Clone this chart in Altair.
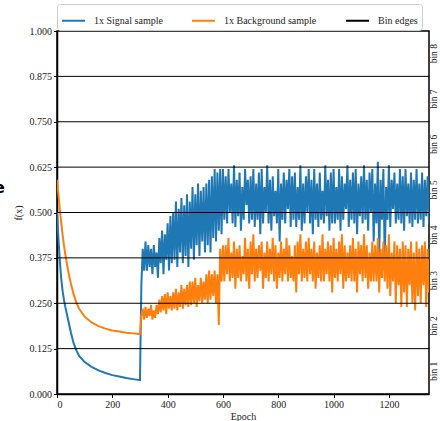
import altair as alt
import pandas as pd

# ---- data ----
smooth_epochs = [0, 5, 10, 15, 20, 25, 30, 40, 50, 60, 70, 80, 100, 125, 150, 175, 200, 225, 250, 275, 300]
signal_smooth = [0.50, 0.43, 0.37, 0.32, 0.285, 0.26, 0.24, 0.205, 0.17, 0.14, 0.12, 0.105, 0.088, 0.075,
                 0.065, 0.058, 0.052, 0.048, 0.044, 0.041, 0.038]
background_smooth = [0.59, 0.55, 0.51, 0.475, 0.44, 0.41, 0.385, 0.34, 0.305, 0.275, 0.252, 0.235, 0.213,
                     0.197, 0.187, 0.18, 0.175, 0.172, 0.169, 0.167, 0.165]

noisy_epochs = list(range(305, 1350, 5))

signal_noisy = [
    0.30, 0.40, 0.34, 0.42, 0.34, 0.41, 0.35, 0.40, 0.33, 0.41, 0.35, 0.39,
    0.32, 0.43, 0.36, 0.45, 0.33, 0.44, 0.37, 0.47, 0.34, 0.49, 0.36, 0.50,
    0.37, 0.53, 0.35, 0.51, 0.39, 0.54, 0.36, 0.52, 0.38, 0.55, 0.35, 0.53,
    0.40, 0.57, 0.37, 0.55, 0.41, 0.58, 0.38, 0.56, 0.42, 0.57, 0.39, 0.58,
    0.41, 0.59, 0.39, 0.60, 0.43, 0.62, 0.42, 0.61, 0.45, 0.62, 0.44, 0.62,
    0.48, 0.60, 0.47, 0.62, 0.50, 0.58, 0.47, 0.63, 0.46, 0.59,
    0.49, 0.61, 0.45, 0.57, 0.48, 0.62, 0.52, 0.59, 0.47, 0.60,
    0.48, 0.62, 0.46, 0.58, 0.48, 0.61, 0.44, 0.62, 0.47, 0.57,
    0.50, 0.63, 0.47, 0.59, 0.45, 0.60, 0.49, 0.56, 0.47, 0.62,
    0.42, 0.58, 0.48, 0.61, 0.47, 0.59, 0.51, 0.62, 0.46, 0.60,
    0.48, 0.61, 0.46, 0.57, 0.48, 0.63, 0.45, 0.58, 0.47, 0.60,
    0.50, 0.62, 0.47, 0.59, 0.44, 0.62, 0.48, 0.58, 0.46, 0.61,
    0.48, 0.56, 0.47, 0.63, 0.49, 0.59, 0.45, 0.61, 0.47, 0.62,
    0.47, 0.57, 0.48, 0.62, 0.45, 0.60, 0.48, 0.58, 0.51, 0.63,
    0.46, 0.59, 0.48, 0.61, 0.47, 0.62, 0.44, 0.58, 0.49, 0.60,
    0.47, 0.63, 0.48, 0.59, 0.45, 0.61, 0.50, 0.62, 0.42, 0.58,
    0.47, 0.64, 0.38, 0.59, 0.48, 0.62, 0.37, 0.57, 0.48, 0.63,
    0.46, 0.59, 0.51, 0.61, 0.47, 0.58, 0.48, 0.62, 0.47, 0.60,
    0.45, 0.62, 0.49, 0.58, 0.47, 0.61, 0.46, 0.59, 0.48, 0.62,
    0.47, 0.58, 0.48, 0.61, 0.46, 0.59, 0.49, 0.60, 0.47,
]

background_noisy = [
    0.215, 0.235, 0.205, 0.24, 0.21, 0.235, 0.215, 0.245, 0.205, 0.23, 0.21, 0.245,
    0.22, 0.26, 0.225, 0.27, 0.23, 0.275, 0.22, 0.28, 0.235, 0.27, 0.23, 0.28,
    0.235, 0.29, 0.23, 0.28, 0.24, 0.30, 0.235, 0.29, 0.245, 0.30, 0.24, 0.31,
    0.245, 0.31, 0.25, 0.32, 0.24, 0.30, 0.255, 0.32, 0.25, 0.31, 0.26, 0.33,
    0.25, 0.34, 0.26, 0.33, 0.27, 0.34, 0.25, 0.33, 0.19, 0.40, 0.31, 0.41,
    0.31, 0.41, 0.33, 0.43, 0.31, 0.39, 0.32, 0.42, 0.29, 0.40,
    0.32, 0.41, 0.31, 0.38, 0.33, 0.43, 0.31, 0.40, 0.29, 0.42,
    0.33, 0.44, 0.31, 0.40, 0.32, 0.41, 0.34, 0.42, 0.29, 0.39,
    0.32, 0.42, 0.31, 0.40, 0.33, 0.43, 0.31, 0.41, 0.29, 0.39,
    0.32, 0.42, 0.31, 0.40, 0.33, 0.43, 0.31, 0.41, 0.32, 0.38,
    0.31, 0.41, 0.28, 0.42, 0.33, 0.44, 0.31, 0.40, 0.32, 0.42,
    0.31, 0.43, 0.33, 0.40, 0.31, 0.42, 0.29, 0.39, 0.32, 0.41,
    0.31, 0.44, 0.31, 0.40, 0.33, 0.42, 0.31, 0.41, 0.28, 0.43,
    0.32, 0.40, 0.31, 0.42, 0.33, 0.44, 0.29, 0.41, 0.31, 0.39,
    0.32, 0.41, 0.31, 0.43, 0.31, 0.40, 0.28, 0.42, 0.33, 0.41,
    0.31, 0.44, 0.32, 0.41, 0.29, 0.39, 0.31, 0.42, 0.31, 0.41,
    0.31, 0.43, 0.28, 0.40, 0.32, 0.42, 0.31, 0.41, 0.29, 0.44,
    0.27, 0.39, 0.31, 0.42, 0.25, 0.41, 0.30, 0.40, 0.24, 0.42,
    0.28, 0.41, 0.24, 0.40, 0.30, 0.42, 0.25, 0.39, 0.23, 0.42,
    0.27, 0.40, 0.25, 0.41, 0.30, 0.42, 0.24, 0.40, 0.28,
]

bin_edges = [0.125, 0.25, 0.375, 0.5, 0.625, 0.75, 0.875]
bin_centers = [0.0625, 0.1875, 0.3125, 0.4375, 0.5625, 0.6875, 0.8125, 0.9375]
bin_labels = ["bin 1", "bin 2", "bin 3", "bin 4", "bin 5", "bin 6", "bin 7", "bin 8"]

series_names = ["1x Signal sample", "1x Background sample", "Bin edges"]
series_colors = ["#1f77b4", "#ff7f0e", "#000000"]

x_ticks = [0, 200, 400, 600, 800, 1000, 1200]
y_ticks = [0, 0.125, 0.25, 0.375, 0.5, 0.625, 0.75, 0.875, 1.0]

FONT = "Liberation Serif"
W, H = 372, 363

epochs_all = smooth_epochs + noisy_epochs
sig_df = pd.DataFrame({"epoch": epochs_all, "value": signal_smooth + signal_noisy,
                       "series": series_names[0]})
bkg_df = pd.DataFrame({"epoch": epochs_all, "value": background_smooth + background_noisy,
                       "series": series_names[1]})
edge_df = pd.DataFrame({"value": bin_edges, "series": series_names[2]})
lab_df = pd.DataFrame({"value": bin_centers, "label": bin_labels})

color = alt.Color(
    "series:N",
    scale=alt.Scale(domain=series_names, range=series_colors),
    legend=alt.Legend(
        title=None, orient="none", legendX=0, legendY=-27, direction="horizontal",
        columns=3, symbolType="stroke", symbolSize=529, symbolStrokeWidth=2,
        labelFont=FONT, labelFontSize=10, labelColor="#222", labelOffset=8,
        columnPadding=25, strokeColor="#cccccc", cornerRadius=3, padding=4,
        fillColor="white",
    ),
)

xs = alt.X("epoch:Q", scale=alt.Scale(domain=[0, 1345], nice=False),
           axis=alt.Axis(title="Epoch", values=x_ticks, format="d", grid=False))
ys = alt.Y("value:Q", scale=alt.Scale(domain=[0, 1], nice=False),
           axis=alt.Axis(title="f(x)", values=y_ticks, format=".3f", grid=False))

sig = alt.Chart(sig_df).mark_line(strokeWidth=2, clip=True).encode(x=xs, y=ys, color=color)
bkg = alt.Chart(bkg_df).mark_line(strokeWidth=2, clip=True).encode(x=xs, y=ys, color=color)
edges = alt.Chart(edge_df).mark_rule(strokeWidth=1).encode(y="value:Q", color=color)
labels = alt.Chart(lab_df).mark_text(
    angle=270, font=FONT, fontSize=9.5, color="#222", baseline="middle", align="center"
).encode(y="value:Q", x=alt.value(W + 5), text="label:N")
stray = alt.Chart(pd.DataFrame({"t": ["e"]})).mark_text(
    font="DejaVu Sans", fontWeight="bold", fontSize=16, align="left", baseline="middle", color="black"
).encode(text="t:N", x=alt.value(-63), y=alt.value(157))

chart = alt.layer(sig, bkg, edges, labels, stray).properties(
    width=W, height=H,
    autosize=alt.AutoSizeParams(type="none"),
    padding={"left": 57, "top": 31, "right": 11, "bottom": 27},
).configure_view(
    stroke="black", strokeWidth=1.5
).configure_axis(
    labelFont=FONT, titleFont=FONT, labelFontSize=10, titleFontSize=10,
    labelColor="#222", titleColor="#222", titleFontWeight="normal",
    domainColor="black", domainWidth=1.5, tickColor="black", tickSize=3.5, tickWidth=1,
    labelPadding=2,
).configure_axisY(titlePadding=6).configure_axisX(titlePadding=2)

chart.save("out.html", embed_options={"renderer": "svg", "actions": False})
